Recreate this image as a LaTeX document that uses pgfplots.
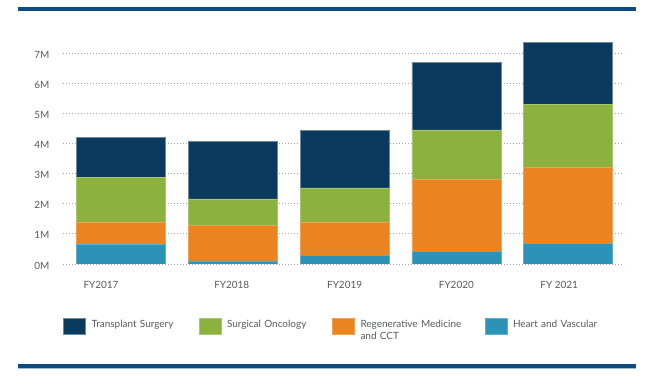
\documentclass[border=0pt]{standalone}
\usepackage{fontspec}
\setmainfont{Lato}
\usepackage{pgfplots}
\pgfplotsset{compat=1.18}
\definecolor{navy}{HTML}{0B3A5F}
\definecolor{sgreen}{HTML}{8BB13F}
\definecolor{sorange}{HTML}{EB831F}
\definecolor{steal}{HTML}{2B93B6}
\definecolor{rulec}{HTML}{0D4A80}
\definecolor{rulelight}{HTML}{9DBBD6}
\definecolor{txt}{HTML}{58595B}
\begin{document}
\begin{tikzpicture}
\path[use as bounding box] (0bp,0bp) rectangle (650bp,385bp);
\fill[rulec] (18bp,373.5bp) rectangle (636bp,377.5bp);
\fill[rulec] (18bp,17bp) rectangle (636bp,20.5bp);
\fill[rulelight] (18bp,16bp) rectangle (636bp,17bp);
\begin{axis}[
  at={(63bp,121bp)}, anchor=south west,
  scale only axis, width=561bp, height=223bp,
  xmin=-0.52, xmax=4.5, ymin=0, ymax=7.4,
  ybar stacked, bar width=89bp,
  axis line style={draw=none},
  major tick length=0pt,
  ytick={0,1,...,7},
  yticklabel={\pgfmathprintnumber{\tick}M},
  xtick={-0.18,0.99,2.0,3.0,3.92},
  xticklabels={FY2017,FY2018,FY2019,FY2020,FY 2021},
  /pgf/number format/assume math mode=true,
  ticklabel style={font=\fontsize{10}{12}\selectfont, text=txt},
  yticklabel style={inner sep=0pt, anchor=east, xshift=-13.5bp, yshift=-1.5bp},
  xticklabel style={inner sep=0pt, anchor=base, yshift=-25bp},
  ymajorgrids,
  grid style={gray!70, line width=0.8bp, dash pattern=on 1.2bp off 1.8bp},
  legend columns=4, reverse legend,
  legend style={at={(axis description cs:0,-0.242)}, anchor=north west,
    draw=none, fill=none, inner sep=0pt, outer sep=0pt,
    font=\fontsize{10}{12}\selectfont, text=txt,
    nodes={inner sep=0pt, anchor=base west, align=left},
    /tikz/every even column/.append style={column sep=7bp},
    /tikz/every odd column/.append style={column sep=6bp}},
  legend image code/.code={\path[#1, line width=0.5bp] (0bp,-7bp) rectangle (22bp,9bp);},
]
\addplot[fill=steal, draw=steal!75!white, line width=0.5bp] coordinates {(0,0.65) (1,0.10) (2,0.29) (3,0.43) (4,0.69)};
\addlegendentry[text width=105bp]{Heart and Vascular}
\addplot[fill=sorange, draw=sorange!75!white, line width=0.5bp] coordinates {(0,0.75) (1,1.19) (2,1.11) (3,2.39) (4,2.51)};
\addlegendentry[text width=117bp]{Regenerative Medicine\\and CCT}
\addplot[fill=sgreen, draw=sgreen!75!white, line width=0.5bp] coordinates {(0,1.47) (1,0.87) (2,1.13) (3,1.63) (4,2.09)};
\addlegendentry[text width=98bp]{Surgical Oncology}
\addplot[fill=navy, draw=navy!60!white, line width=0.5bp] coordinates {(0,1.33) (1,1.90) (2,1.91) (3,2.25) (4,2.06)};
\addlegendentry[text width=100bp]{Transplant Surgery}
\end{axis}
\end{tikzpicture}
\end{document}
